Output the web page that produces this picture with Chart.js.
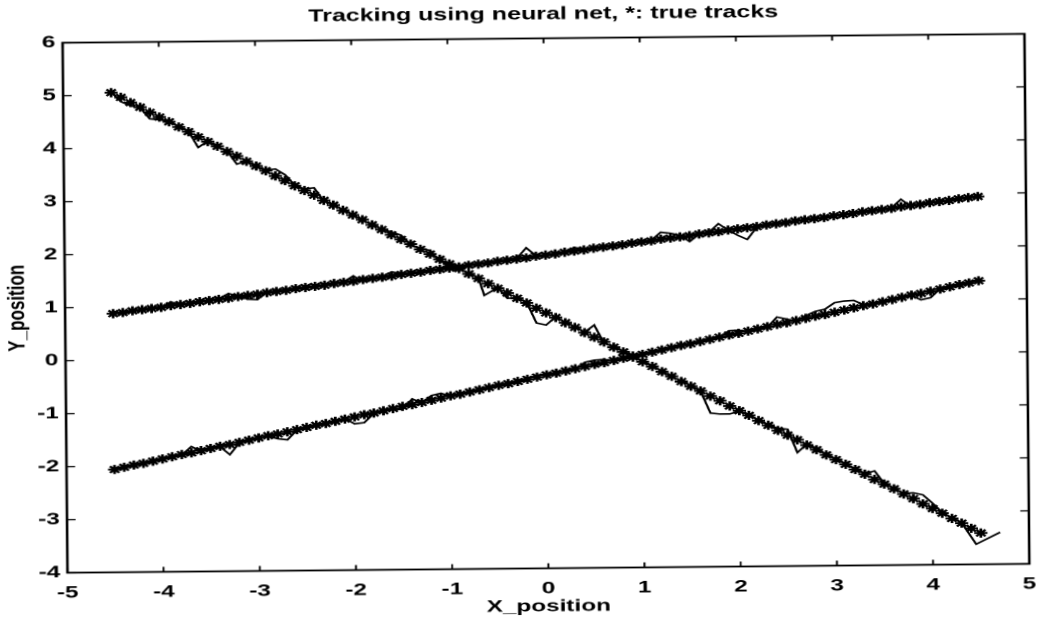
<!DOCTYPE html>
<html>
<head>
<meta charset="utf-8">
<title>Tracking using neural net</title>
<script src="https://cdn.jsdelivr.net/npm/chart.js@4/dist/chart.umd.min.js"></script>
<style>
  html, body { margin: 0; padding: 0; background: #fff; overflow: hidden; }
  /* the printed figure is slightly tilted and stretched sideways */
  #sheet { position: absolute; left: 0; top: 0; width: 1048px; height: 621px; transform: rotate(-0.53deg); }
  #trackChart { position: absolute; left: 0; top: 0; transform-origin: 0 0; transform: scaleX(1.4297); }
</style>
</head>
<body>
<div id="sheet"><canvas id="trackChart" width="733" height="621"></canvas></div>
<script>
// sample positions along x (shared by the true tracks)
var xGrid = [
  -4.5, -4.4, -4.3, -4.2, -4.1, -4, -3.9, -3.8, -3.7, -3.6,
  -3.5, -3.4, -3.3, -3.2, -3.1, -3, -2.9, -2.8, -2.7, -2.6,
  -2.5, -2.4, -2.3, -2.2, -2.1, -2, -1.9, -1.8, -1.7, -1.6,
  -1.5, -1.4, -1.3, -1.2, -1.1, -1, -0.9, -0.8, -0.7, -0.6,
  -0.5, -0.4, -0.3, -0.2, -0.1, 0, 0.1, 0.2, 0.3, 0.4,
  0.5, 0.6, 0.7, 0.8, 0.9, 1, 1.1, 1.2, 1.3, 1.4,
  1.5, 1.6, 1.7, 1.8, 1.9, 2, 2.1, 2.2, 2.3, 2.4,
  2.5, 2.6, 2.7, 2.8, 2.9, 3, 3.1, 3.2, 3.3, 3.4,
  3.5, 3.6, 3.7, 3.8, 3.9, 4, 4.1, 4.2, 4.3, 4.4,
  4.5
];

// true tracks (plotted with *)
var trueA = [
  5.05, 4.96, 4.86, 4.77, 4.67, 4.58, 4.49, 4.39, 4.30, 4.20,
  4.11, 4.02, 3.92, 3.83, 3.73, 3.64, 3.55, 3.45, 3.36, 3.26,
  3.17, 3.08, 2.98, 2.89, 2.79, 2.70, 2.61, 2.51, 2.42, 2.32,
  2.23, 2.14, 2.04, 1.95, 1.85, 1.76, 1.67, 1.57, 1.48, 1.38,
  1.29, 1.20, 1.10, 1.01, 0.91, 0.82, 0.73, 0.63, 0.54, 0.44,
  0.35, 0.26, 0.16, 0.07, -0.03, -0.12, -0.21, -0.31, -0.40, -0.50,
  -0.59, -0.68, -0.78, -0.87, -0.97, -1.06, -1.15, -1.25, -1.34, -1.44,
  -1.53, -1.62, -1.72, -1.81, -1.91, -2.00, -2.09, -2.19, -2.28, -2.38,
  -2.47, -2.56, -2.66, -2.75, -2.85, -2.94, -3.03, -3.13, -3.22, -3.32,
  -3.41
];
var trueB = [
  0.88, 0.90, 0.93, 0.95, 0.97, 0.99, 1.02, 1.04, 1.06, 1.09,
  1.11, 1.13, 1.15, 1.18, 1.20, 1.22, 1.25, 1.27, 1.29, 1.32,
  1.34, 1.36, 1.38, 1.41, 1.43, 1.45, 1.48, 1.50, 1.52, 1.54,
  1.57, 1.59, 1.61, 1.64, 1.66, 1.68, 1.70, 1.73, 1.75, 1.77,
  1.80, 1.82, 1.84, 1.86, 1.89, 1.91, 1.93, 1.96, 1.98, 2.00,
  2.03, 2.05, 2.07, 2.09, 2.12, 2.14, 2.16, 2.19, 2.21, 2.23,
  2.25, 2.28, 2.30, 2.32, 2.35, 2.37, 2.39, 2.41, 2.44, 2.46,
  2.48, 2.51, 2.53, 2.55, 2.57, 2.60, 2.62, 2.64, 2.67, 2.69,
  2.71, 2.73, 2.76, 2.78, 2.80, 2.83, 2.85, 2.87, 2.90, 2.92,
  2.94
];
var trueC = [
  -2.06, -2.02, -1.98, -1.95, -1.91, -1.87, -1.83, -1.79, -1.76, -1.72,
  -1.68, -1.64, -1.61, -1.57, -1.53, -1.49, -1.45, -1.42, -1.38, -1.34,
  -1.30, -1.26, -1.23, -1.19, -1.15, -1.11, -1.07, -1.04, -1.00, -0.96,
  -0.92, -0.89, -0.85, -0.81, -0.77, -0.73, -0.70, -0.66, -0.62, -0.58,
  -0.54, -0.51, -0.47, -0.43, -0.39, -0.35, -0.32, -0.28, -0.24, -0.20,
  -0.16, -0.13, -0.09, -0.05, -0.01, 0.02, 0.06, 0.10, 0.14, 0.18,
  0.21, 0.25, 0.29, 0.33, 0.37, 0.40, 0.44, 0.48, 0.52, 0.56,
  0.59, 0.63, 0.67, 0.71, 0.74, 0.78, 0.82, 0.86, 0.90, 0.93,
  0.97, 1.01, 1.05, 1.09, 1.12, 1.16, 1.20, 1.24, 1.28, 1.31,
  1.35
];

// network estimates (plotted as lines)
var estAx = [
  -4.5, -4.4, -4.3, -4.2, -4.1, -4, -3.9, -3.8, -3.7, -3.6,
  -3.5, -3.4, -3.3, -3.2, -3.1, -3, -2.9, -2.8, -2.7, -2.6,
  -2.5, -2.4, -2.3, -2.2, -2.1, -2, -1.9, -1.8, -1.7, -1.6,
  -1.5, -1.4, -1.3, -1.2, -1.1, -1, -0.9, -0.8, -0.7, -0.64,
  -0.5, -0.4, -0.3, -0.2, -0.1, 0, 0.1, 0.2, 0.3, 0.4,
  0.5, 0.6, 0.7, 0.8, 0.9, 1, 1.1, 1.2, 1.3, 1.4,
  1.5, 1.6, 1.7, 1.8, 1.9, 2, 2.1, 2.2, 2.3, 2.4,
  2.5, 2.6, 2.7, 2.8, 2.9, 3, 3.1, 3.2, 3.3, 3.4,
  3.5, 3.6, 3.7, 3.8, 3.9, 4, 4.1, 4.2, 4.3, 4.45,
  4.7
];
var estAy = [
  5.06, 4.88, 4.80, 4.76, 4.55, 4.53, 4.50, 4.40, 4.31, 4.00,
  4.12, 4.01, 3.93, 3.68, 3.74, 3.63, 3.56, 3.58, 3.47, 3.27,
  3.20, 3.22, 2.97, 2.90, 2.80, 2.71, 2.60, 2.52, 2.43, 2.37,
  2.31, 2.13, 2.05, 2.02, 1.80, 1.77, 1.66, 1.58, 1.49, 1.16,
  1.30, 1.10, 1.11, 1.02, 0.63, 0.59, 0.74, 0.64, 0.55, 0.45,
  0.58, 0.24, 0.17, 0.08, -0.02, -0.11, -0.20, -0.30, -0.41, -0.49,
  -0.58, -0.69, -1.10, -1.12, -1.12, -1.07, -1.14, -1.24, -1.33, -1.40,
  -1.42, -1.86, -1.70, -1.78, -1.90, -1.99, -2.08, -2.18, -2.27, -2.22,
  -2.46, -2.55, -2.65, -2.64, -2.68, -2.84, -3.02, -3.12, -3.21, -3.62,
  -3.40
];
var estBy = [
  0.93, 0.86, 0.94, 0.96, 0.98, 1.00, 1.09, 1.03, 1.07, 1.08,
  1.12, 1.14, 1.24, 1.19, 1.13, 1.12, 1.26, 1.28, 1.30, 1.31,
  1.35, 1.37, 1.39, 1.40, 1.44, 1.55, 1.44, 1.51, 1.53, 1.62,
  1.58, 1.60, 1.62, 1.65, 1.67, 1.69, 1.71, 1.74, 1.76, 1.78,
  1.79, 1.83, 1.85, 2.05, 1.90, 1.92, 1.94, 1.95, 2.05, 2.01,
  2.02, 2.06, 2.08, 2.10, 2.11, 2.15, 2.17, 2.32, 2.30, 2.26,
  2.14, 2.28, 2.31, 2.47, 2.35, 2.25, 2.17, 2.40, 2.45, 2.47,
  2.49, 2.50, 2.54, 2.56, 2.58, 2.59, 2.63, 2.65, 2.66, 2.70,
  2.72, 2.74, 2.90, 2.77, 2.81, 2.82, 2.86, 2.88, 2.89, 2.93,
  2.95
];
var estCy = [
  -2.05, -2.03, -1.97, -1.96, -1.90, -1.88, -1.82, -1.80, -1.64, -1.73,
  -1.67, -1.65, -1.80, -1.58, -1.52, -1.50, -1.46, -1.51, -1.53, -1.35,
  -1.29, -1.27, -1.22, -1.20, -1.14, -1.24, -1.22, -1.05, -0.99, -0.97,
  -0.98, -0.78, -0.86, -0.72, -0.68, -0.74, -0.69, -0.67, -0.61, -0.59,
  -0.55, -0.50, -0.48, -0.42, -0.36, -0.33, -0.31, -0.26, -0.25, -0.12,
  -0.08, -0.07, -0.10, -0.06, -0.02, 0.03, 0.05, 0.11, 0.13, 0.19,
  0.22, 0.24, 0.30, 0.32, 0.45, 0.46, 0.43, 0.49, 0.51, 0.70,
  0.66, 0.62, 0.72, 0.80, 0.84, 0.96, 0.99, 1.00, 0.92, 0.94,
  0.98, 1.00, 1.06, 1.08, 1.00, 1.04, 1.21, 1.23, 1.29, 1.32,
  1.36
];

function points(xs, ys) {
  return xs.map(function (x, i) {
    return { x: x, y: ys[i] };
  });
}

function trueSet(ys) {
  return {
    data: points(xGrid, ys),
    showLine: false,
    pointStyle: "star",
    pointRadius: 4.6,
    pointBorderWidth: 1.9,
    pointBorderColor: "#000",
    pointBackgroundColor: "#000",
  };
}

function estSet(xs, ys) {
  return {
    data: points(xs, ys),
    showLine: true,
    borderColor: "#000",
    borderWidth: 1.6,
    pointRadius: 0,
    tension: 0,
  };
}

// closed box with inward tick marks on all four sides
var boxTicks = {
  id: "boxTicks",
  afterDatasetsDraw: function (chart) {
    var ctx = chart.ctx;
    var a = chart.chartArea;
    var xs = chart.scales.x;
    var ys = chart.scales.y;
    ctx.save();
    ctx.strokeStyle = "#000";
    ctx.lineWidth = 1.8;
    ctx.strokeRect(a.left, a.top, a.right - a.left, a.bottom - a.top);
    ctx.lineWidth = 1.3;
    ctx.beginPath();
    xs.ticks.forEach(function (t) {
      var px = xs.getPixelForValue(t.value);
      ctx.moveTo(px, a.bottom);
      ctx.lineTo(px, a.bottom - 5);
      ctx.moveTo(px, a.top);
      ctx.lineTo(px, a.top + 5);
    });
    ys.ticks.forEach(function (t) {
      var py = ys.getPixelForValue(t.value);
      ctx.moveTo(a.left, py);
      ctx.lineTo(a.left + 6, py);
      ctx.moveTo(a.right, py);
      ctx.lineTo(a.right - 6, py);
    });
    ctx.stroke();
    ctx.restore();
  },
};

Chart.defaults.font.family = '"Liberation Sans", Arial, sans-serif';
Chart.defaults.color = "#000";

var ctxTracks = document.getElementById("trackChart").getContext("2d");
var trackChart = new Chart(ctxTracks, {
  type: "scatter",
  data: {
    datasets: [
      trueSet(trueA),
      trueSet(trueB),
      trueSet(trueC),
      estSet(estAx, estAy),
      estSet(xGrid, estBy),
      estSet(xGrid, estCy),
    ],
  },
  options: {
    responsive: false,
    animation: false,
    devicePixelRatio: 2,
    layout: { padding: { left: 0, right: 13.6, top: 0, bottom: 0 } },
    scales: {
      x: {
        type: "linear",
        min: -5,
        max: 5,
        grid: { display: false, drawTicks: false },
        border: { display: false },
        ticks: { stepSize: 1, padding: 10, font: { size: 17, weight: "bold" }, maxRotation: 0 },
        title: {
          display: true,
          text: "X_position",
          font: { size: 17, weight: "bold" },
          padding: { top: 0, bottom: 4 },
        },
        afterFit: function (scale) {
          scale.height = 52.5;
        },
      },
      y: {
        type: "linear",
        min: -4,
        max: 6,
        grid: { display: false, drawTicks: false },
        border: { display: false },
        ticks: { stepSize: 1, padding: 5, font: { size: 17, weight: "bold" } },
        title: {
          display: true,
          text: "Y_position",
          font: { size: 17, weight: "bold" },
          padding: { top: 2, bottom: 0 },
        },
        afterFit: function (scale) {
          scale.width = 45.5;
        },
      },
    },
    plugins: {
      legend: { display: false },
      tooltip: { enabled: false },
      title: {
        display: true,
        fullSize: false,
        text: "Tracking using neural net, *: true tracks",
        color: "#000",
        font: { size: 17.5, weight: "bold" },
        padding: { top: 4, bottom: 13.5 },
      },
    },
  },
  plugins: [boxTicks],
});
</script>
</body>
</html>
